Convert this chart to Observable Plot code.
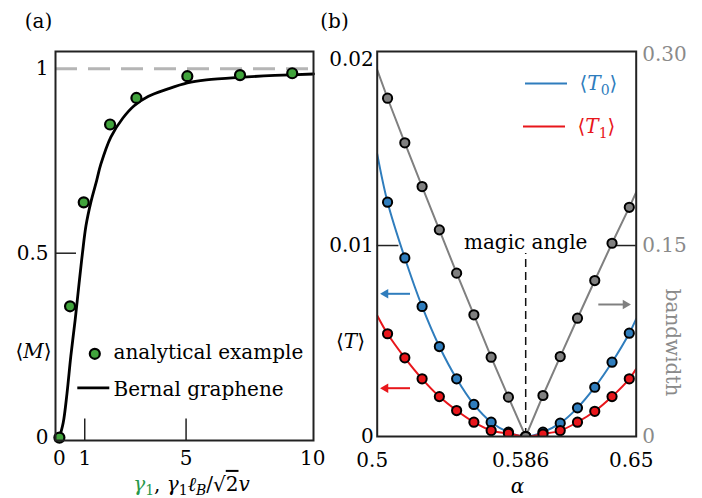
<!DOCTYPE html>
<html><head><meta charset="utf-8">
<script src="https://cdn.jsdelivr.net/npm/d3@7"></script>
<script src="https://cdn.jsdelivr.net/npm/@observablehq/plot@0.6"></script>
<style>
body{margin:0;background:#fff;}
#wrap{position:relative;width:702px;height:498px;overflow:hidden;background:#fff;}
#wrap > svg{position:absolute;top:0;}
</style></head><body><div id="wrap"></div>
<script>
// ---------- Panel (a) data ----------
const analyticX = [0, 0.42, 0.96, 2.0, 3.04, 5.05, 7.13, 9.19];
const analyticY = [0, 0.356, 0.638, 0.849, 0.921, 0.980, 0.983, 0.988];
const bernalX = [0, 0.15, 0.3, 0.45, 0.62, 0.78, 0.91, 1.05, 1.24, 1.47, 1.63, 2.03, 2.5, 2.95, 3.5, 4.26, 5.05, 5.8, 7.13, 8.5, 10.03];
const bernalY = [0, 0.04, 0.12, 0.22, 0.318, 0.42, 0.5, 0.575, 0.638, 0.697, 0.74, 0.815, 0.866, 0.9, 0.925, 0.945, 0.962, 0.97, 0.977, 0.982, 0.986];
const aXTicks = [0, 1, 5, 10];
const aYTicks = [0, 0.5, 1];
const aLegend = ["analytical example", "Bernal graphene"];

// ---------- Panel (b) data ----------
const alpha = [0.496, 0.506, 0.516, 0.526, 0.536, 0.546, 0.556, 0.566, 0.576, 0.586, 0.596, 0.606, 0.616, 0.626, 0.636, 0.646];
const T0 = [0.0159, 0.01227, 0.00935, 0.00681, 0.00471, 0.00302, 0.00168, 0.00075, 0.00023, 0, 0.00023, 0.0007, 0.0015, 0.00258, 0.00389, 0.00541];
const T1 = [0.0068, 0.00538, 0.00412, 0.00302, 0.00209, 0.00136, 0.00075, 0.00031, 0.00016, 0, 0.00013, 0.00031, 0.00075, 0.00132, 0.00209, 0.00302];
const bandwidth = [null, 0.2657, 0.2307, 0.1963, 0.1623, 0.1283, 0.0956, 0.0623, 0.0309, 0, 0.0322, 0.0628, 0.0929, 0.1225, 0.1518, 0.180];
// values of the drawn curves at the panel edges alpha = 0.5 and 0.65
const edgeAlpha = [0.5, 0.65];
const T0Edge = [0.0148, 0.00616];
const T1Edge = [0.00634, 0.00354];
const bwEdge = [0.288, 0.192];
const magicAlpha = 0.586;
const bXTicks = [0.5, 0.586, 0.65];
const bYTicks = [0, 0.01, 0.02];
const bwTicks = [0, 0.15, 0.30];
const bwTickLabels = ["0", "0.15", "0.30"];
const bwPerT = 0.15 / 0.01;
const bLegend = ["⟨T0⟩", "⟨T1⟩"];

// ---------- styling ----------
const FONT = "DejaVu Serif";
const FS = 20;
const GREEN = "#41a33c", BLUE = "#2f7dbd", RED = "#e8161b", GRAY = "#808080", GRAYTXT = "#8a8a8a";

function inv(P) {
  const fx = px => P.xd[0] + (px - P.left - P.ml) / (P.w - P.ml - P.mr) * (P.xd[1] - P.xd[0]);
  const fy = py => P.yd[0] + (P.h - P.mb - py) / (P.h - P.mt - P.mb) * (P.yd[1] - P.yd[0]);
  return [fx, fy];
}
const baseStyle = {fontFamily: FONT, fontSize: FS + "px", background: "transparent", overflow: "visible"};
const fmt = d => String(+d.toFixed(4));

const rich = {
  "⟨M⟩": '⟨<tspan font-style="italic">M</tspan>⟩',
  "⟨T⟩": '⟨<tspan font-style="italic">T</tspan>⟩',
  "⟨T0⟩": '⟨<tspan font-style="italic">T</tspan><tspan font-size="14" dy="5">0</tspan><tspan dy="-5">⟩</tspan>',
  "⟨T1⟩": '⟨<tspan font-style="italic">T</tspan><tspan font-size="14" dy="5">1</tspan><tspan dy="-5">⟩</tspan>',
  "γ1, γ1ℓB/√2v": '<tspan fill="#27984a" font-style="italic">γ</tspan><tspan fill="#27984a" font-size="14" dy="4">1</tspan><tspan dy="-4">, </tspan><tspan font-style="italic">γ</tspan><tspan font-size="14" dy="4">1</tspan><tspan dy="-4" font-style="italic">ℓ</tspan><tspan font-size="14" dy="4" font-style="italic">B</tspan><tspan dy="-4">/√</tspan><tspan text-decoration="overline">2</tspan><tspan font-style="italic">v</tspan>'
};
function enrich(svg) {
  svg.querySelectorAll("text").forEach(t => {
    const k = t.textContent;
    if (rich[k]) t.innerHTML = rich[k];
  });
}

// ---------- Panel (a) ----------
const A = {left: 0, w: 330, h: 498, ml: 55, mr: 17, mt: 51, mb: 58, xd: [-0.154, 10.03], yd: [-0.0079, 1.047]};
const [ax, ay] = inv(A);
const analytic = analyticX.map((x, i) => ({x, y: analyticY[i]}));
const bernal = bernalX.map((x, i) => ({x, y: bernalY[i]}));

const plotA = Plot.plot({
  width: A.w, height: A.h,
  marginLeft: A.ml, marginRight: A.mr, marginTop: A.mt, marginBottom: A.mb,
  x: {domain: A.xd}, y: {domain: A.yd},
  style: baseStyle,
  marks: [
    Plot.ruleX(aXTicks.filter(t => t > 0 && t < 10), {y1: A.yd[0], y2: ay(A.h - A.mb - 21.5), stroke: "#222", strokeWidth: 1.5}),
    Plot.ruleY(aYTicks.filter(t => t > 0), {x1: A.xd[0], x2: ax(A.ml + 21), stroke: "#222", strokeWidth: 1.5}),
    Plot.ruleY([1], {stroke: "#b5b5b5", strokeWidth: 3, strokeDasharray: "22,11"}),
    Plot.line(bernal, {x: "x", y: "y", curve: "catmull-rom", stroke: "black", strokeWidth: 2.8}),
    Plot.dot(analytic, {x: "x", y: "y", r: 5, fill: GREEN, stroke: "black", strokeWidth: 2.2}),
    Plot.frame({stroke: "#222", strokeWidth: 2}),
    Plot.axisX({ticks: aXTicks, tickSize: 0, tickPadding: 10, label: null, fontSize: FS, tickFormat: fmt}),
    Plot.axisY({ticks: aYTicks, tickSize: 0, tickPadding: 7, label: null, fontSize: FS, tickFormat: fmt}),
    // legend
    Plot.dot([aLegend[0]], {x: ax(94.3), y: ay(353.3), r: 5, fill: GREEN, stroke: "black", strokeWidth: 2.2}),
    Plot.text([aLegend[0]], {x: ax(113), y: ay(352), text: d => d, textAnchor: "start", fontSize: FS}),
    Plot.ruleY([ay(387.3)], {x1: ax(77.3), x2: ax(109.3), stroke: "black", strokeWidth: 2.8}),
    Plot.text([aLegend[1]], {x: ax(113), y: ay(389), text: d => d, textAnchor: "start", fontSize: FS}),
    // labels
    Plot.text(["(a)"], {x: ax(38), y: ay(21), text: d => d, fontSize: FS}),
    Plot.text(["⟨M⟩"], {x: ax(33), y: ay(351), text: d => d, fontSize: FS}),
    Plot.text(["γ1, γ1ℓB/√2v"], {x: ax(191), y: ay(484), text: d => d, fontSize: FS})
  ]
});
plotA.style.left = A.left + "px";
enrich(plotA);
document.getElementById("wrap").appendChild(plotA);

// ---------- Panel (b) ----------
const B = {left: 330, w: 372, h: 498, ml: 46.7, mr: 66.3, mt: 51, mb: 62, xd: [0.5, 0.65], yd: [0, 0.02016]};
const [bx, by] = inv(B);
const pts = alpha.map((a, i) => ({a, t0: T0[i], t1: T1[i], bw: bandwidth[i]}));
const withEdges = (vals, edge) => {
  const arr = alpha.map((a, i) => ({a, v: vals[i]})).filter(d => d.v != null && d.a >= edgeAlpha[0]);
  return [{a: edgeAlpha[0], v: edge[0]}, ...arr, {a: edgeAlpha[1], v: edge[1]}];
};
const c0 = withEdges(T0, T0Edge), c1 = withEdges(T1, T1Edge), cbw = withEdges(bandwidth, bwEdge);

const plotB = Plot.plot({
  width: B.w, height: B.h,
  marginLeft: B.ml, marginRight: B.mr, marginTop: B.mt, marginBottom: B.mb,
  x: {domain: B.xd}, y: {domain: B.yd},
  style: baseStyle,
  marks: [
    Plot.ruleY([bYTicks[1]], {x1: B.xd[0], x2: bx(B.left + B.ml + 21.7), stroke: "#222", strokeWidth: 1.5}),
    Plot.ruleY([bwTicks[1] / bwPerT], {x1: bx(B.left + B.w - B.mr - 21.7), x2: B.xd[1], stroke: "#222", strokeWidth: 1.5}),
    Plot.ruleX([magicAlpha], {y1: 0, y2: by(253), stroke: "#111", strokeWidth: 1.5, strokeDasharray: "8,5"}),
    Plot.line(cbw, {x: "a", y: d => d.v / bwPerT, stroke: GRAY, strokeWidth: 2, clip: true}),
    Plot.line(c0, {x: "a", y: "v", curve: "catmull-rom", stroke: BLUE, strokeWidth: 2, clip: true}),
    Plot.line(c1, {x: "a", y: "v", curve: "catmull-rom", stroke: RED, strokeWidth: 2, clip: true}),
    Plot.dot(pts, {x: "a", y: "t0", r: 4.6, fill: BLUE, stroke: "black", strokeWidth: 2, clip: true}),
    Plot.dot(pts, {x: "a", y: "t1", r: 4.6, fill: RED, stroke: "black", strokeWidth: 2, clip: true}),
    Plot.dot(pts.filter(d => d.bw != null), {x: "a", y: d => d.bw / bwPerT, r: 4.6, fill: GRAY, stroke: "black", strokeWidth: 2, clip: true}),
    Plot.frame({stroke: "#222", strokeWidth: 2}),
    Plot.axisX({ticks: bXTicks, tickSize: 0, tickPadding: 16, dx: -5, label: null, fontSize: FS, tickFormat: fmt}),
    Plot.axisY({ticks: bYTicks.slice(0, 2), tickSize: 0, tickPadding: 3.5, label: null, fontSize: FS, tickFormat: fmt}),
    Plot.axisY({ticks: bYTicks.slice(2), tickSize: 0, tickPadding: 3.5, dy: 5, label: null, fontSize: FS, tickFormat: fmt}),
    Plot.axisY(bwTicks.map(v => v / bwPerT), {anchor: "right", tickSize: 0, tickPadding: 6, label: null, fontSize: FS,
      color: GRAYTXT, tickFormat: d => bwTickLabels[bwTicks.findIndex(v => Math.abs(v / bwPerT - d) < 1e-9)]}),
    // arrows
    Plot.ruleY([by(293.3)], {x1: bx(386), x2: bx(410), stroke: BLUE, strokeWidth: 2}),
    Plot.dot([0], {x: bx(385), y: by(293.3), symbol: "triangle", rotate: -90, r: 3.5, fill: BLUE}),
    Plot.ruleY([by(387.7)], {x1: bx(386), x2: bx(410), stroke: RED, strokeWidth: 2}),
    Plot.dot([0], {x: bx(385), y: by(387.7), symbol: "triangle", rotate: -90, r: 3.5, fill: RED}),
    Plot.ruleY([by(304)], {x1: bx(598.3), x2: bx(624), stroke: GRAY, strokeWidth: 2}),
    Plot.dot([0], {x: bx(625), y: by(304), symbol: "triangle", rotate: 90, r: 3.5, fill: GRAY}),
    // legend
    Plot.ruleY([by(83)], {x1: bx(525), x2: bx(567), stroke: BLUE, strokeWidth: 2}),
    Plot.text([bLegend[0]], {x: bx(579), y: by(83), text: d => d, textAnchor: "start", fill: BLUE, fontSize: FS}),
    Plot.ruleY([by(126)], {x1: bx(523), x2: bx(565), stroke: RED, strokeWidth: 2}),
    Plot.text([bLegend[1]], {x: bx(577), y: by(126), text: d => d, textAnchor: "start", fill: RED, fontSize: FS}),
    // labels
    Plot.text(["magic angle"], {x: magicAlpha, y: by(242), text: d => d, fontSize: FS}),
    Plot.text(["(b)"], {x: bx(334), y: by(21), text: d => d, fontSize: FS}),
    Plot.text(["⟨T⟩"], {x: bx(350), y: by(341), text: d => d, fontSize: FS}),
    Plot.text(["bandwidth"], {x: bx(672), y: by(342), text: d => d, rotate: 90, fill: GRAYTXT, fontSize: FS}),
    Plot.text(["α"], {x: bx(517), y: by(486), text: d => d, fontStyle: "italic", fontSize: FS})
  ]
});
plotB.style.left = B.left + "px";
enrich(plotB);
document.getElementById("wrap").appendChild(plotB);
</script></body></html>
